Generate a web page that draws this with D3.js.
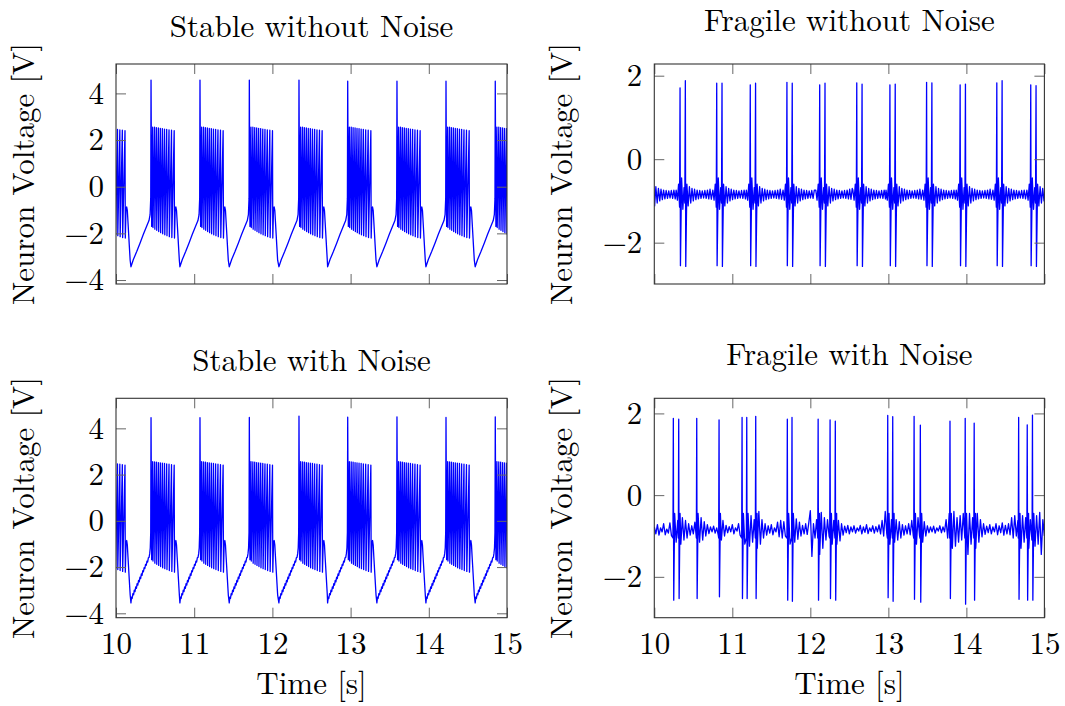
<!DOCTYPE html>
<html>
<head>
<meta charset="utf-8">
<script src="https://cdn.jsdelivr.net/npm/d3@7"></script>
<style>
  body { margin: 0; background: #fff; }
</style>
</head>
<body>
<svg id="chart" width="1065" height="706"></svg>
<script>
// ---------- axis values ----------
const timeTicks = [10, 11, 12, 13, 14, 15];
const timeDomain = [10, 15];
const stableYTicks = [-4, -2, 0, 2, 4];
const fragileYTicks = [-2, 0, 2];
const stableYDomain = [-4.17, 5.26];
const stableNoisyYDomain = [-4.19, 5.3];
const fragileYDomain = [-2.99, 2.28];
const fragileNoisyYDomain = [-3.0, 2.37];

// ---------- stable neuron (bursting) ----------
// time of the leading spike of each burst [s]
const stableOnsets = [9.819, 10.448, 11.074, 11.705, 12.34, 12.963, 13.593, 14.22, 14.85];
// height of the leading spike of each burst [V]
const stablePeaks = [4.57, 4.57, 4.57, 4.57, 4.57, 4.52, 4.52, 4.52, 4.52];
// one burst cycle, [time after leading spike (s), voltage (V)]; null = leading spike
const stableCycle = [
  [-0.257, -3.43], [-0.226, -3.12], [-0.183, -2.78], [-0.141, -2.42], [-0.098, -2.04],
  [-0.055, -1.68], [-0.026, -1.45], [-0.012, -1.2], [-0.004, -0.5],
  [0, null], [0.008, -1.7],
  [0.021, 2.55], [0.025, -1.75], [0.045, 2.55], [0.049, -1.82], [0.069, 2.53], [0.073, -1.87],
  [0.094, 2.52], [0.098, -1.92], [0.119, 2.5], [0.123, -1.97], [0.145, 2.49], [0.149, -2.02],
  [0.172, 2.47], [0.176, -2.06], [0.2, 2.46], [0.204, -2.1], [0.23, 2.44], [0.234, -2.14],
  [0.262, 2.42], [0.266, -2.18], [0.296, 2.4], [0.3, -2.2],
  [0.31, -0.9], [0.318, -0.87], [0.326, -1.02], [0.334, -1.5], [0.35, -2.46], [0.362, -3.15]
];

const stableNoisyOnsets = [9.819, 10.448, 11.074, 11.705, 12.34, 12.963, 13.593, 14.22, 14.85];
const stableNoisyPeaks = [4.5, 4.46, 4.46, 4.47, 4.53, 4.48, 4.5, 4.47, 4.5];
const stableNoisyCycle = [
  [-0.257, -3.55], [-0.249, -3.3], [-0.241, -3.36], [-0.232, -3.15], [-0.223, -3.2],
  [-0.214, -3.0], [-0.205, -3.06], [-0.196, -2.86], [-0.187, -2.92], [-0.178, -2.72],
  [-0.169, -2.78], [-0.16, -2.58], [-0.151, -2.64], [-0.142, -2.44], [-0.133, -2.5],
  [-0.124, -2.3], [-0.115, -2.36], [-0.106, -2.16], [-0.097, -2.2], [-0.088, -2.02],
  [-0.079, -2.06], [-0.07, -1.88], [-0.061, -1.92], [-0.052, -1.74], [-0.043, -1.78],
  [-0.034, -1.6], [-0.025, -1.58], [-0.017, -1.42], [-0.01, -1.18], [-0.004, -0.5],
  [0, null], [0.008, -1.68],
  [0.021, 2.56], [0.025, -1.74], [0.045, 2.55], [0.049, -1.83], [0.069, 2.54], [0.073, -1.88],
  [0.094, 2.52], [0.098, -1.93], [0.119, 2.51], [0.123, -1.98], [0.145, 2.49], [0.149, -2.03],
  [0.172, 2.48], [0.176, -2.07], [0.2, 2.46], [0.204, -2.11], [0.23, 2.45], [0.234, -2.15],
  [0.262, 2.43], [0.266, -2.19], [0.296, 2.41], [0.3, -2.22],
  [0.31, -0.92], [0.318, -0.85], [0.326, -1.05], [0.334, -1.55], [0.35, -2.5], [0.362, -3.2]
];

// ---------- fragile neuron (spike pairs) ----------
const fragileOnsets = [9.90, 10.33, 10.80, 11.23, 11.70, 12.12, 12.595, 13.02, 13.49, 13.92, 14.39, 14.825];
// tops of the two spikes of each pair [V]
const fragileTops = [
  [1.8, 1.82], [1.71, 1.88], [1.82, 1.82], [1.78, 1.82], [1.84, 1.82], [1.78, 1.82],
  [1.83, 1.8], [1.78, 1.8], [1.84, 1.83], [1.78, 1.8], [1.83, 1.88], [1.78, 1.76]
];
// approach to a pair, [time before first spike (s), V]
const fragileLead = [[-0.05, -0.74], [-0.034, -0.98], [-0.019, -0.6], [-0.006, -1.15]];
// the pair and the ringing after it; null = spike top
const fragilePair = [
  [0, null], [0.005, -2.55], [0.02, -0.45], [0.036, -1.2], [0.051, -0.68], [0.061, -1.05],
  [0.068, null], [0.073, -2.57], [0.088, -0.6], [0.104, -1.12], [0.12, -0.66], [0.137, -1.05],
  [0.153, -0.7], [0.17, -1.0], [0.186, -0.72], [0.203, -0.97], [0.219, -0.74], [0.236, -0.95],
  [0.252, -0.75], [0.269, -0.94], [0.285, -0.76], [0.302, -0.93], [0.318, -0.75], [0.335, -0.94],
  [0.351, -0.74], [0.368, -0.95], [0.384, -0.72], [0.401, -0.96], [0.417, -0.7]
];

// ---------- fragile neuron with noise ----------
// spikes: [time (s), top (V), bottom (V)]
const noisySpikes = [
  [10.244, 1.88, -2.57], [10.313, 1.86, -2.53], [10.544, 1.88, -2.53], [10.83, 1.84, -2.49],
  [11.125, 1.9, -2.53], [11.185, 1.9, -2.53], [11.30, 1.93, -2.53], [11.705, 1.86, -2.57],
  [11.765, 1.9, -2.6], [12.10, 1.86, -2.57], [12.253, 1.84, -2.53], [12.32, 1.81, -2.57],
  [12.992, 1.95, -2.51], [13.056, 1.92, -2.6], [13.33, 1.93, -2.55], [13.41, 1.71, -2.62],
  [13.79, 1.81, -2.53], [13.985, 1.88, -2.67], [14.10, 1.76, -2.57], [14.67, 1.9, -2.55],
  [14.78, 1.72, -2.57], [14.847, 1.96, -2.57]
];
const noisyBaseStart = 10.0;
const noisyBaseStep = 0.02;
// membrane voltage between spikes, one value per step [V]
const noisyBaseline = [
  -0.78, -0.95, -0.72, -0.98, -0.8, -0.9, -0.7, -0.97, -0.83, -0.93,
  -0.68, -0.99, -0.85, -0.85, -1.15, -0.62, -0.85, -1.2, -0.55, -1.1,
  -0.62, -1.05, -0.7, -0.98, -0.75, -0.95, -0.66, -0.85, -0.85, -1.15,
  -0.55, -1.1, -0.65, -1.0, -0.72, -0.94, -0.78, -0.9, -0.76, -0.93,
  -0.8, -0.98, -0.85, -1.1, -0.62, -1.0, -0.74, -0.92, -0.77, -0.9,
  -0.72, -0.95, -0.8, -0.88, -0.7, -0.98, -0.85, -0.85, -1.2, -0.85,
  -0.85, -1.25, -0.5, -1.15, -0.6, -0.85, -1.3, -0.4, -1.2, -0.6,
  -1.05, -0.7, -0.98, -0.75, -0.93, -0.72, -0.97, -0.8, -0.9, -0.66,
  -1.02, -0.62, -1.05, -0.65, -1.0, -0.85, -0.85, -1.2, -0.85, -0.85,
  -1.15, -0.58, -1.08, -0.66, -1.0, -0.74, -0.95, -0.7, -0.96, -0.68,
  -0.38, -1.5, -0.7, -1.05, -0.6, -0.85, -1.45, -0.42, -1.3, -0.55,
  -1.1, -0.6, -1.0, -0.85, -1.2, -0.62, -0.85, -1.2, -0.62, -1.12,
  -0.7, -0.98, -0.76, -0.92, -0.74, -0.95, -0.78, -0.9, -0.75, -0.93,
  -0.8, -0.88, -0.74, -0.95, -0.78, -0.91, -0.72, -0.94, -0.8, -0.89,
  -0.75, -0.93, -0.77, -0.9, -0.73, -0.95, -0.62, -1.0, -0.4, -0.95,
  -0.85, -1.2, -0.6, -0.85, -1.15, -0.6, -1.1, -0.65, -1.05, -0.72,
  -0.98, -0.75, -0.95, -0.7, -0.97, -0.62, -1.0, -0.85, -1.2, -0.55,
  -1.0, -0.85, -1.15, -0.65, -1.0, -0.75, -0.92, -0.78, -0.9, -0.76,
  -0.93, -0.8, -0.88, -0.75, -0.92, -0.78, -0.9, -0.6, -1.05, -0.45,
  -0.85, -1.3, -0.4, -1.25, -0.55, -1.15, -0.5, -1.1, -0.45, -0.85,
  -0.85, -1.45, -0.45, -1.2, -0.55, -0.85, -1.3, -0.45, -1.15, -0.6,
  -1.02, -0.7, -0.96, -0.76, -0.92, -0.72, -0.95, -0.78, -0.9, -0.7,
  -0.97, -0.75, -0.92, -0.68, -0.98, -0.74, -0.95, -0.7, -0.97, -0.55,
  -1.05, -0.5, -1.0, -0.62, -0.85, -1.3, -0.5, -1.15, -0.55, -0.85,
  -1.3, -0.6, -1.1, -0.85, -1.25, -0.5, -1.2, -0.42, -1.45, -0.6, -1.0
];

// ---------- series assembly ----------
function burstSeries(onsets, peaks, cycle) {
  const out = [];
  onsets.forEach((T, k) => {
    cycle.forEach(([dt, v]) => out.push([T + dt, v === null ? peaks[k] : v]));
  });
  return out;
}

function pairSeries(onsets, tops, lead, pair) {
  const out = [];
  onsets.forEach((T, k) => {
    const next = k + 1 < onsets.length ? onsets[k + 1] : Infinity;
    const startNext = next + lead[0][0];
    lead.forEach(([dt, v]) => out.push([T + dt, v]));
    let s = 0;
    pair.forEach(([dt, v]) => {
      if (T + dt >= startNext - 0.004) return;
      out.push([T + dt, v === null ? tops[k][s++] : v]);
    });
  });
  return out;
}

function noisySeries(spikes, base, t0, step) {
  const pts = [];
  base.forEach((v, i) => {
    const t = t0 + i * step;
    const inSpike = spikes.some(([ts]) => t >= ts - 0.006 && t <= ts + 0.019);
    if (!inSpike) pts.push([t, v]);
  });
  spikes.forEach(([ts, top, bottom]) => {
    pts.push([ts - 0.005, -1.05], [ts, top], [ts + 0.005, bottom], [ts + 0.017, -0.45]);
  });
  return pts.sort((a, b) => a[0] - b[0]);
}

const panels = [
  { title: "Stable without Noise", x0: 116, x1: 507, y0: 64, y1: 284, titleY: 36,
    yDomain: stableYDomain, yTicks: stableYTicks, xLabels: false,
    series: burstSeries(stableOnsets, stablePeaks, stableCycle) },
  { title: "Fragile without Noise", x0: 654.3, x1: 1044.4, y0: 64, y1: 284, titleY: 30,
    yDomain: fragileYDomain, yTicks: fragileYTicks, xLabels: false,
    series: pairSeries(fragileOnsets, fragileTops, fragileLead, fragilePair) },
  { title: "Stable with Noise", x0: 116, x1: 507, y0: 398.3, y1: 617.7, titleY: 370,
    yDomain: stableNoisyYDomain, yTicks: stableYTicks, xLabels: true,
    series: burstSeries(stableNoisyOnsets, stableNoisyPeaks, stableNoisyCycle) },
  { title: "Fragile with Noise", x0: 654.3, x1: 1044.4, y0: 398.3, y1: 617.7, titleY: 364,
    yDomain: fragileNoisyYDomain, yTicks: fragileYTicks, xLabels: true,
    series: noisySeries(noisySpikes, noisyBaseline, noisyBaseStart, noisyBaseStep) }
];

const FONT = '"Latin Modern Roman", "CMU Serif", "Liberation Serif", serif';
const FONT_SIZE = "31px";
const svg = d3.select("#chart");
svg.append("rect").attr("width", 1065).attr("height", 706).attr("fill", "#fff");

const tickLen = 10;
const fmt = d3.format("d");

panels.forEach((p, idx) => {
  const x = d3.scaleLinear().domain(timeDomain).range([p.x0, p.x1]);
  const y = d3.scaleLinear().domain(p.yDomain).range([p.y1, p.y0]);
  const g = svg.append("g");

  const clipId = "clip" + idx;
  g.append("clipPath").attr("id", clipId)
    .append("rect").attr("x", p.x0).attr("y", p.y0)
    .attr("width", p.x1 - p.x0).attr("height", p.y1 - p.y0);

  // data line
  g.append("path")
    .datum(p.series)
    .attr("clip-path", `url(#${clipId})`)
    .attr("fill", "none")
    .attr("stroke", "#0000ff")
    .attr("stroke-width", 1.3)
    .attr("stroke-linejoin", "round")
    .attr("d", d3.line().x(d => x(d[0])).y(d => y(d[1])));

  // inward ticks on all four sides
  const styleAxis = sel => {
    sel.attr("font-family", null).attr("font-size", null);
    sel.select(".domain").remove();
    sel.selectAll(".tick line").attr("stroke", "#666").attr("stroke-width", 1);
    sel.selectAll(".tick text")
      .style("font-family", FONT).style("font-size", FONT_SIZE).attr("fill", "#000");
  };
  g.append("g").attr("transform", `translate(0,${p.y1})`)
    .call(d3.axisBottom(x).tickValues(timeTicks).tickSize(-tickLen).tickPadding(14)
      .tickFormat(p.xLabels ? fmt : () => ""))
    .call(styleAxis);
  g.append("g").attr("transform", `translate(0,${p.y0})`)
    .call(d3.axisTop(x).tickValues(timeTicks).tickSize(-tickLen).tickFormat(() => ""))
    .call(styleAxis);
  g.append("g").attr("transform", `translate(${p.x0},0)`)
    .call(d3.axisLeft(y).tickValues(p.yTicks).tickSize(-tickLen).tickPadding(12).tickFormat(fmt))
    .call(styleAxis);
  g.append("g").attr("transform", `translate(${p.x1},0)`)
    .call(d3.axisRight(y).tickValues(p.yTicks).tickSize(-tickLen).tickFormat(() => ""))
    .call(styleAxis);

  // frame
  g.append("rect")
    .attr("x", p.x0).attr("y", p.y0)
    .attr("width", p.x1 - p.x0).attr("height", p.y1 - p.y0)
    .attr("fill", "none").attr("stroke", "#333").attr("stroke-width", 1.1);

  // title
  const cx = (p.x0 + p.x1) / 2;
  g.append("text")
    .attr("x", cx).attr("y", p.titleY + 1)
    .attr("text-anchor", "middle")
    .style("font-family", FONT).style("font-size", FONT_SIZE)
    .text(p.title);

  // y label
  const cy = (p.y0 + p.y1) / 2;
  const lx = p.x0 - 82;
  g.append("text")
    .attr("transform", `translate(${lx},${cy}) rotate(-90)`)
    .attr("text-anchor", "middle")
    .style("font-family", FONT).style("font-size", FONT_SIZE)
    .text("Neuron Voltage [V]");

  // x label
  if (p.xLabels) {
    g.append("text")
      .attr("x", cx).attr("y", 694)
      .attr("text-anchor", "middle")
      .style("font-family", FONT).style("font-size", FONT_SIZE)
      .text("Time [s]");
  }
});
</script>
</body>
</html>
